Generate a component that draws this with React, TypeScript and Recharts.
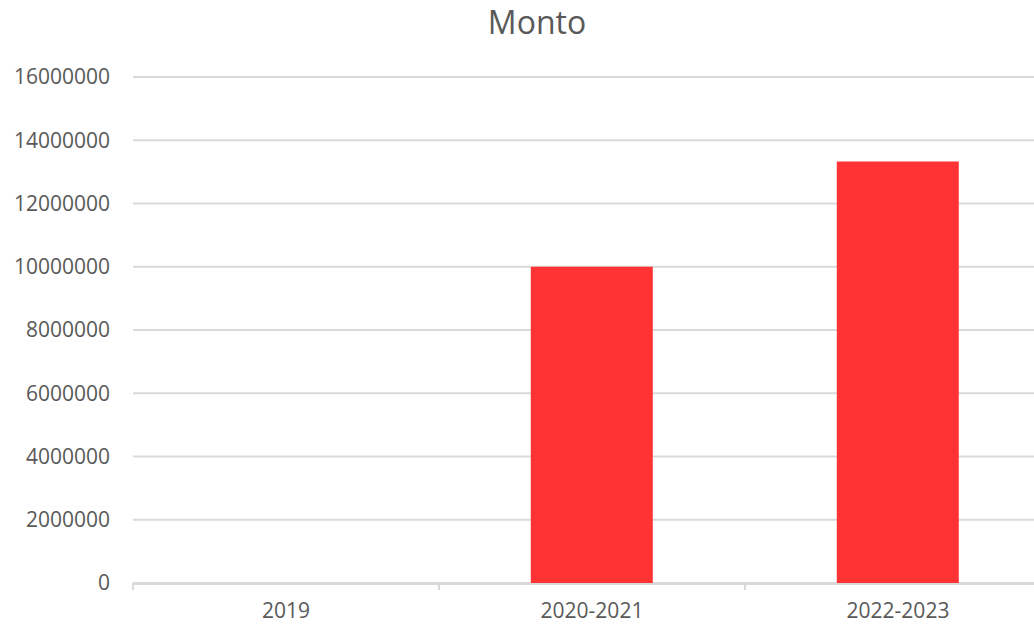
import { BarChart, Bar, XAxis, YAxis, CartesianGrid } from 'recharts';

const periods = ['2019', '2020-2021', '2022-2023'];
const montos = [0, 10000000, 13330000];
const yTicks = [0, 2000000, 4000000, 6000000, 8000000, 10000000, 12000000, 14000000, 16000000];
const bounds = [0, 1, 2];

const data = periods.map((periodo, i) => ({ periodo, monto: montos[i], pos: i + 0.5 }));

const FONT = '"Open Sans", sans-serif';
const TEXT = '#595959';
const GRID = '#d9d9d9';

export default function App() {
  return (
    <div
      style={{
        position: 'absolute',
        left: 0,
        top: 0,
        width: 1034,
        height: 624,
        overflow: 'hidden',
        background: '#fff',
        fontFamily: FONT,
      }}
    >
      {/* título */}
      <div
        style={{
          position: 'absolute',
          left: 0,
          top: 0,
          width: 1074,
          lineHeight: '44px',
          fontSize: 32,
          color: TEXT,
          textAlign: 'center',
          zIndex: 1,
        }}
      >
        Monto
      </div>
      <BarChart
        width={1060}
        height={624}
        data={data}
        margin={{ top: 77, right: 9, bottom: 0, left: 0 }}
        barCategoryGap="30%"
      >
        <CartesianGrid stroke={GRID} strokeWidth={2} vertical={false} />
        <XAxis
          xAxisId="cat"
          dataKey="periodo"
          height={40}
          axisLine={{ stroke: GRID, strokeWidth: 2 }}
          tickLine={false}
          tickSize={0}
          tickMargin={19}
          interval={0}
          tick={{ fill: TEXT, fontSize: 21, fontFamily: FONT }}
        />
        <XAxis
          xAxisId="bounds"
          dataKey="pos"
          type="number"
          domain={[0, 3]}
          ticks={bounds}
          interval={0}
          height={1}
          axisLine={false}
          tick={() => <g />}
          tickSize={7}
          tickLine={{ stroke: GRID, strokeWidth: 2 }}
        />
        <YAxis
          width={133}
          domain={[0, 16000000]}
          ticks={yTicks}
          axisLine={false}
          tickLine={false}
          tickSize={0}
          tickMargin={23}
          interval={0}
          tick={{ fill: TEXT, fontSize: 21, fontFamily: FONT }}
        />
        <Bar xAxisId="cat" dataKey="monto" fill="#FF3333" isAnimationActive={false} />
      </BarChart>
    </div>
  );
}
